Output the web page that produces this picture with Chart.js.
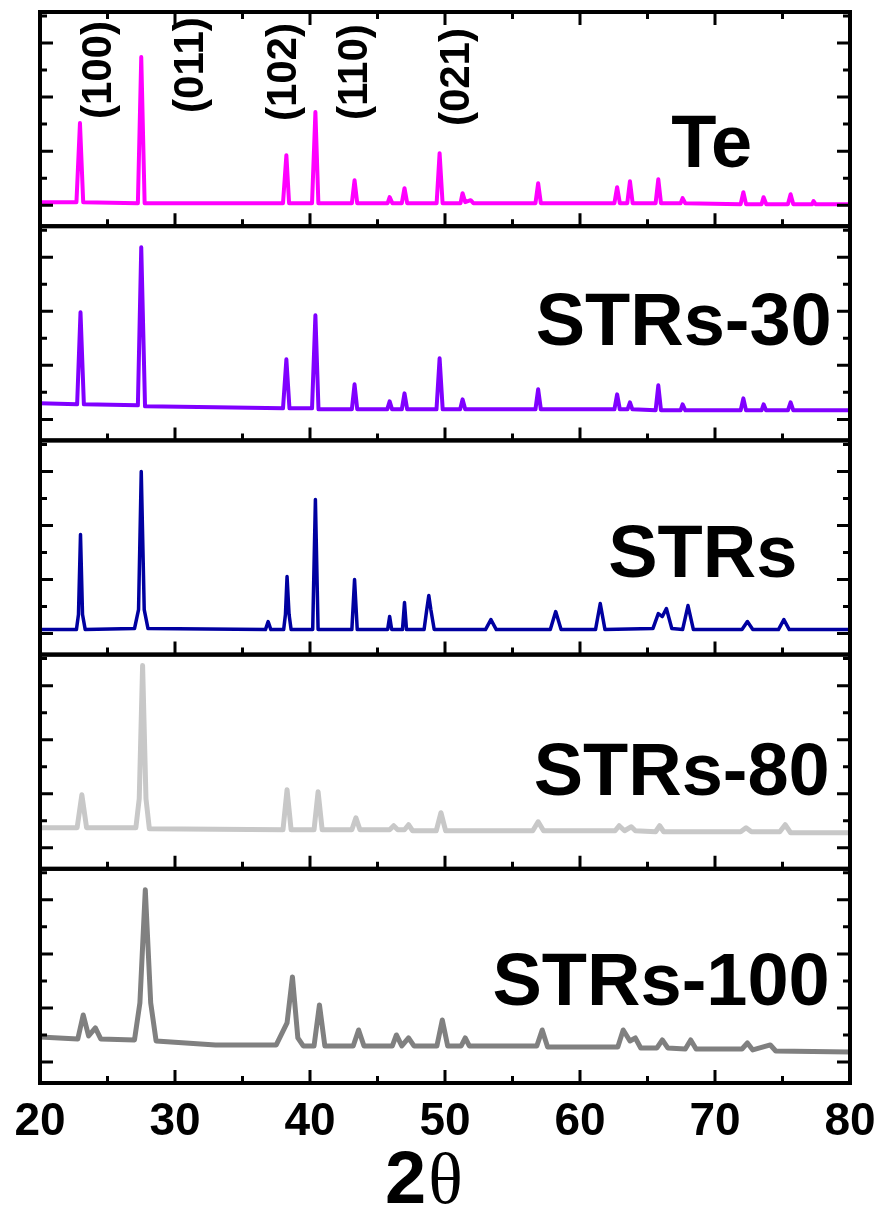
<!DOCTYPE html>
<html>
<head>
<meta charset="utf-8">
<script src="https://cdn.jsdelivr.net/npm/chart.js@4.4.1/dist/chart.umd.min.js"></script>
<style>
  html, body { margin: 0; padding: 0; background: #fff; }
  #wrap { width: 880px; height: 1211px; position: relative; }
</style>
</head>
<body>
<div id="wrap"><canvas id="xrd"></canvas></div>
<script>
// 2θ axis
const xMin = 20, xMax = 80;
const xMajor = 10, xMinor = 5;

// panels, top to bottom
const samples = ["Te", "STRs-30", "STRs", "STRs-80", "STRs-100"];
const lineColors = ["#ff00ff", "#8000ff", "#0000a0", "#c8c8c8", "#808080"];
const lineWidths = [4, 4, 3.5, 5, 5];

// inward y ticks of every panel (intensity, a.u.)
const yMax = 214;
const yTicks = [21, 48, 75, 102, 129, 156, 183, 210];

// Te reflections labelled in the top panel
const hkl = ["(100)", "(011)", "(102)", "(110)", "(021)"];
const hklX = [24.4, 31.2, 38.1, 43.4, 50.9];
const hklY = [156, 161, 154, 154, 149];

// sample names: right edge (2θ) and baseline (a.u.) inside each panel
const nameX = [72.75, 78.65, 76.1, 78.5, 78.5];
const nameY = [59, 95, 78, 74, 78];

// patterns, [2θ, intensity a.u.]
const te = [[20,24],[22.7,24],[22.96,103],[23.2,24],[27.25,23],[27.5,169],[27.75,23],[38.0,23],[38.25,71],[38.45,23],
  [40.15,23],[40.4,114],[40.62,23],[43.1,23],[43.3,46],[43.5,23],[45.75,23],[45.9,29],[46.1,23],[46.8,23],[47.0,38],[47.2,23],
  [49.38,23],[49.6,73],[49.82,23],[51.15,23],[51.3,33],[51.5,24],[51.9,26],[52.1,23],[56.7,23],[56.9,43],[57.1,23],
  [62.55,23],[62.75,39],[62.95,23],[63.5,23],[63.7,45],[63.9,23],[65.6,23],[65.8,47],[66.0,23],[67.45,23],[67.6,28],[67.8,23],
  [71.9,22],[72.1,34],[72.3,22],[73.45,22],[73.6,29],[73.8,22],[75.4,22],[75.6,32],[75.8,22],[77.2,22],[77.3,25],[77.45,22],[80,22]];

const strs30 = [[20,37],[22.75,36],[23.0,128],[23.25,36],[27.25,35],[27.5,193],[27.78,34],[33,33],[38.0,32],[38.25,81],[38.48,32],
  [40.15,32],[40.4,125],[40.63,31],[43.1,31],[43.3,56],[43.5,31],[45.72,31],[45.9,39],[46.08,31],[46.8,31],[47.0,47],[47.2,31],
  [49.37,31],[49.6,82],[49.83,31],[51.12,31],[51.3,41],[51.5,31],[56.7,31],[56.9,51],[57.1,31],[62.55,31],[62.75,46],[62.95,31],
  [63.52,31],[63.7,38],[63.88,31],[65.6,30],[65.8,55],[66.0,30],[67.45,30],[67.6,36],[67.8,30],[71.9,30],[72.1,42],[72.3,30],
  [73.45,30],[73.6,36],[73.78,30],[75.4,30],[75.6,38],[75.8,30],[80,30]];

const strs = [[20,25],[22.7,25],[22.85,40],[23.0,120],[23.15,40],[23.35,25],[27.0,26],[27.3,45],[27.5,183],[27.72,45],[28.0,26],
  [36.7,25],[36.9,33],[37.1,25],[38.05,25],[38.18,40],[38.3,78],[38.45,40],[38.6,25],[40.2,25],[40.4,155],[40.6,25],
  [43.1,25],[43.3,75],[43.5,25],[45.75,25],[45.9,38],[46.05,25],[46.85,25],[47.0,52],[47.15,25],[48.45,25],[48.65,45],[48.8,59],
  [48.95,45],[49.2,25],[53.0,25],[53.4,35],[53.8,25],[57.8,25],[58.2,43],[58.6,25],[61.15,25],[61.5,51],[61.85,25],
  [65.4,26],[65.8,41],[66.1,38],[66.4,46],[66.8,26],[67.6,25],[68.0,49],[68.4,25],[72.0,25],[72.4,33],[72.8,25],
  [74.7,25],[75.1,35],[75.5,25],[80,25]];

const strs80 = [[20,41],[22.75,41],[23.1,74],[23.45,41],[27.1,41],[27.35,70],[27.6,203],[27.85,70],[28.1,40],[38.0,39],[38.3,79],
  [38.6,39],[40.3,39],[40.6,77],[40.9,39],[43.1,39],[43.4,51],[43.7,39],[45.9,39],[46.2,43],[46.5,39],[47.0,39],[47.3,44],[47.6,38],
  [49.35,38],[49.7,56],[50.05,38],[56.5,38],[56.9,47],[57.3,38],[62.6,38],[62.9,43],[63.3,38],[63.8,42],[64.1,38],
  [65.6,37],[65.9,43],[66.2,37],[71.9,37],[72.3,41],[72.7,37],[74.8,37],[75.2,44],[75.6,36],[80,36]];

const strs100 = [[20,46],[22.8,44],[23.2,68],[23.6,47],[24.1,55],[24.5,44],[27.0,43],[27.4,80],[27.8,193],[28.2,80],[28.6,42],
  [33,38],[37.5,38],[38.3,60],[38.7,106],[39.1,45],[39.5,37],[40.3,37],[40.7,78],[41.1,37],[43.2,37],[43.6,53],[44.0,37],
  [46.1,37],[46.4,48],[46.8,37],[47.3,45],[47.7,37],[49.4,37],[49.8,63],[50.2,37],[51.2,37],[51.5,45],[51.8,37],
  [56.8,37],[57.2,53],[57.6,36],[62.8,36],[63.2,53],[63.7,42],[64.1,45],[64.5,35],[65.7,35],[66.1,43],[66.5,35],
  [67.8,34],[68.2,43],[68.6,34],[72.0,34],[72.4,40],[72.8,33],[74.1,38],[74.5,32],[80,31]];

const patterns = [te, strs30, strs, strs80, strs100];
const panelIds = ["y1", "y2", "y3", "y4", "y5"];

const sans = "'Liberation Sans', Arial, sans-serif";

// frame, inward ticks and text
const decorPlugin = {
  id: "decor",
  afterDraw(chart) {
    const { ctx, chartArea: a, scales } = chart;
    const xs = scales.x;
    ctx.save();
    ctx.strokeStyle = "#000";
    ctx.fillStyle = "#000";
    panelIds.forEach((id, i) => {
      const ys = scales[id];
      const top = ys.top, bot = ys.bottom;
      ctx.lineWidth = 3;
      ctx.beginPath();
      yTicks.forEach((v, k) => {
        const py = ys.getPixelForValue(v);
        const len = k % 2 === 0 ? 13 : 7;
        ctx.moveTo(a.left, py); ctx.lineTo(a.left + len, py);
        ctx.moveTo(a.right, py); ctx.lineTo(a.right - len, py);
      });
      for (let v = xMin + xMinor; v < xMax; v += xMinor) {
        const px = xs.getPixelForValue(v);
        const len = v % xMajor === 0 ? 13 : 7;
        ctx.moveTo(px, bot); ctx.lineTo(px, bot - len);
        if (i === 0) { ctx.moveTo(px, top); ctx.lineTo(px, top + len); }
      }
      ctx.stroke();
      ctx.lineWidth = 4;
      ctx.strokeRect(a.left, top, a.right - a.left, bot - top);

      // sample name
      ctx.font = "bold 74px " + sans;
      ctx.textAlign = "right";
      ctx.textBaseline = "alphabetic";
      ctx.fillText(samples[i], xs.getPixelForValue(nameX[i]), ys.getPixelForValue(nameY[i]));
    });

    // Miller indices
    const y1 = scales.y1;
    ctx.font = "bold 42px " + sans;
    ctx.textAlign = "center";
    ctx.textBaseline = "middle";
    hkl.forEach((t, i) => {
      ctx.save();
      ctx.translate(xs.getPixelForValue(hklX[i]), y1.getPixelForValue(hklY[i]));
      ctx.rotate(-Math.PI / 2);
      ctx.fillText(t, 0, 0);
      ctx.restore();
    });

    // axis title 2θ
    ctx.textAlign = "left";
    ctx.textBaseline = "alphabetic";
    const tx = 385, ty = 1203;
    ctx.font = "bold 74px " + sans;
    ctx.fillText("2", tx, ty);
    const w2 = ctx.measureText("2").width;
    ctx.font = "72px 'Liberation Serif', 'Times New Roman', serif";
    ctx.fillText("θ", tx + w2 + 2, ty);
    ctx.restore();
  }
};

const scales = {
  x: {
    type: "linear",
    position: "bottom",
    min: xMin,
    max: xMax,
    grid: { display: false, drawTicks: false },
    border: { display: false },
    ticks: {
      stepSize: xMajor,
      maxRotation: 0,
      autoSkip: false,
      padding: 12,
      color: "#000",
      font: { family: sans, size: 46, weight: "bold" }
    },
    afterFit: s => { s.height = 128; s.paddingLeft = 0; s.paddingRight = 0; }
  }
};
// defined bottom panel first: stacked left axes are laid out in reverse order
for (let i = panelIds.length - 1; i >= 0; i--) {
  scales[panelIds[i]] = {
    type: "linear",
    position: "left",
    stack: "xrd",
    stackWeight: 1,
    min: 0,
    max: yMax,
    grid: { display: false, drawTicks: false },
    border: { display: false },
    ticks: { display: false },
    afterFit: s => { s.width = 0; }
  };
}

new Chart(document.getElementById("xrd"), {
  type: "line",
  data: {
    datasets: patterns.map((p, i) => ({
      label: samples[i],
      data: p.map(d => ({ x: d[0], y: d[1] })),
      yAxisID: panelIds[i],
      borderColor: lineColors[i],
      borderWidth: lineWidths[i],
      borderJoinStyle: "round",
      borderCapStyle: "round",
      pointRadius: 0,
      tension: 0,
      fill: false
    }))
  },
  options: {
    responsive: true,
    maintainAspectRatio: false,
    animation: false,
    layout: { padding: { left: 40, right: 30, top: 12, bottom: 0 } },
    plugins: { legend: { display: false }, tooltip: { enabled: false } },
    scales: scales
  },
  plugins: [decorPlugin]
});
</script>
</body>
</html>
